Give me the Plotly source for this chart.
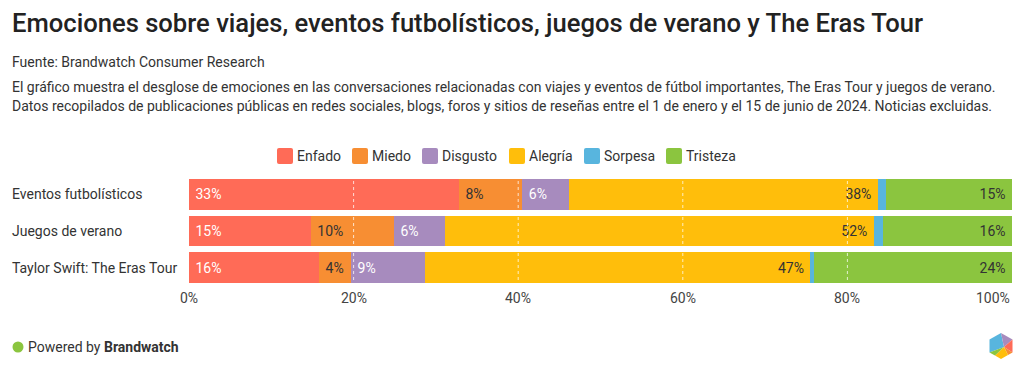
import plotly.graph_objects as go

categories = ["Eventos futbolísticos", "Juegos de verano", "Taylor Swift: The Eras Tour"]
emotions = ["Enfado", "Miedo", "Disgusto", "Alegría", "Sorpesa", "Tristeza"]
enfado = [32.8, 14.8, 15.8]
miedo = [7.7, 10.1, 3.9]
disgusto = [5.7, 6.2, 9.0]
alegria = [37.5, 52.1, 46.8]
sorpesa = [1.0, 1.1, 0.4]
tristeza = [15.3, 15.7, 24.1]
x_ticks = [0, 20, 40, 60, 80, 100]

series = [enfado, miedo, disgusto, alegria, sorpesa, tristeza]
colors = ["#FF6B57", "#F78E33", "#A78BBE", "#FFBE0B", "#58B5DE", "#8BC53F"]
text_colors = ["white", "#333333", "white", "#333333", "#333333", "#333333"]
anchors = ["start", "start", "start", "end", "end", "end"]
show_text = [True, True, True, True, False, True]
legend_box_x = [277, 352, 422, 509, 584, 666]  # page-pixel layout positions of legend swatches

OFF = 8  # page body margin
W, H = 1016, 367
L, R, T, B = 181, 12, 168, 89
PW, PH = W - L - R, H - T - B
NBSP = "\u00a0"


def px(x):
    return (x - OFF - L) / PW


def py(y):
    return (H - B - (y - OFF)) / PH


FONT = "Roboto, Arial, sans-serif"

fig = go.Figure()
for name, vals, col, tc, anc, st in zip(emotions, series, colors, text_colors, anchors, show_text):
    if st:
        txt = [(NBSP + f"{round(v)}%") if anc == "start" else (f"{round(v)}%" + NBSP) for v in vals]
    else:
        txt = None
    fig.add_trace(go.Bar(
        name=name, y=categories, x=vals, orientation="h",
        marker=dict(color=col, line=dict(width=0)),
        text=txt,
        textposition="inside" if st else "none",
        insidetextanchor=anc, textangle=0, constraintext="none",
        textfont=dict(color=tc, size=14, family=FONT),
        hoverinfo="x+name", showlegend=False,
    ))

# dashed gridlines drawn above the bars
for v in x_ticks[1:-1]:
    fig.add_shape(type="line", xref="x", yref="paper", x0=v, x1=v, y0=0, y1=1,
                  line=dict(color="rgba(255,255,255,0.75)", width=1, dash="dot"),
                  layer="above")

ann = []
ann.append(dict(text="Emociones sobre viajes, eventos futbolísticos, juegos de verano y The Eras Tour",
                x=px(10), y=py(23), font=dict(size=25.6, color="#222222", family=FONT, weight=500)))
ann.append(dict(text="Fuente: Brandwatch Consumer Research",
                x=px(10), y=py(62), font=dict(size=14, color="#333333", family=FONT)))
ann.append(dict(text="El gráfico muestra el desglose de emociones en las conversaciones relacionadas con viajes y eventos de fútbol importantes, The Eras Tour y juegos de verano.",
                x=px(10), y=py(87), font=dict(size=14, color="#333333", family=FONT)))
ann.append(dict(text="Datos recopilados de publicaciones públicas en redes sociales, blogs, foros y sitios de reseñas entre el 1 de enero y el 15 de junio de 2024. Noticias excluidas.",
                x=px(10), y=py(106), font=dict(size=14, color="#333333", family=FONT)))
ann.append(dict(text="Powered by <b>Brandwatch</b>",
                x=px(26), y=py(347), font=dict(size=14, color="#333333", family=FONT)))
for a in ann:
    a.update(xref="paper", yref="paper", xanchor="left", yanchor="middle", showarrow=False)

for c in categories:
    ann.append(dict(text=c, xref="paper", yref="y", x=px(10), y=c, xanchor="left", yanchor="middle",
                    showarrow=False, font=dict(size=14, color="#333333", family=FONT)))

for v in x_ticks:
    ann.append(dict(text=f"{v}%", xref="x", yref="paper", x=v, y=py(298),
                    xanchor="right" if v == x_ticks[-1] else "center", yanchor="middle",
                    showarrow=False, font=dict(size=14, color="#444444", family=FONT)))

# custom legend: rounded swatches + labels
swatch = "M-6,-8 L6,-8 Q8,-8 8,-6 L8,6 Q8,8 6,8 L-6,8 Q-8,8 -8,6 L-8,-6 Q-8,-8 -6,-8 Z"
for name, col, bx in zip(emotions, colors, legend_box_x):
    fig.add_shape(type="path", xref="paper", yref="paper", xsizemode="pixel", ysizemode="pixel",
                  xanchor=px(bx + 8), yanchor=py(156), path=swatch, fillcolor=col, line=dict(width=0))
    ann.append(dict(text=name, xref="paper", yref="paper", x=px(bx + 18), y=py(156),
                    xanchor="left", yanchor="middle", showarrow=False,
                    font=dict(size=14, color="#333333", family=FONT)))

# footer dot
fig.add_shape(type="circle", xref="paper", yref="paper", xsizemode="pixel", ysizemode="pixel",
              xanchor=px(18), yanchor=py(347), x0=-5.5, x1=5.5, y0=-5.5, y1=5.5,
              fillcolor="#8BC53F", line=dict(width=0))

# hexagon logo
hx, hy = px(1001), py(346)
pts = {
    "t": (0, 13), "tr": (11.5, 6.5), "br": (11.5, -6.5), "b": (0, -13), "bl": (-11.5, -6.5),
    "tl": (-11.5, 6.5), "c": (3, -1), "m1": (-6, -9.5), "m2": (7, -9),
}
pieces = [
    (["t", "tl", "bl", "c"], "#58B5DE"),
    (["t", "tr", "c"], "#A78BBE"),
    (["tr", "br", "c"], "#FF6B57"),
    (["br", "m2", "c"], "#F78E33"),
    (["m2", "b", "m1", "c"], "#FFBE0B"),
    (["bl", "m1", "c"], "#8BC53F"),
]
for keys, col in pieces:
    path = "M" + " L".join(f"{pts[k][0]},{pts[k][1]}" for k in keys) + " Z"
    fig.add_shape(type="path", xref="paper", yref="paper", xsizemode="pixel", ysizemode="pixel",
                  xanchor=hx, yanchor=hy, path=path, fillcolor=col, line=dict(width=0))

fig.update_layout(
    width=W, height=H,
    margin=dict(l=L, r=R, t=T, b=B, pad=0, autoexpand=False),
    barmode="stack", bargap=0.155,
    plot_bgcolor="white", paper_bgcolor="white",
    font=dict(family=FONT, size=14, color="#333333"),
    showlegend=False,
    xaxis=dict(range=[0, 100], showgrid=False, zeroline=False, showticklabels=False,
               showline=False, ticks="", fixedrange=True),
    yaxis=dict(categoryorder="array", categoryarray=categories, autorange="reversed",
               showticklabels=False, showgrid=False, zeroline=False, ticks="", fixedrange=True),
    annotations=ann,
)

fig.write_html("out.html")
